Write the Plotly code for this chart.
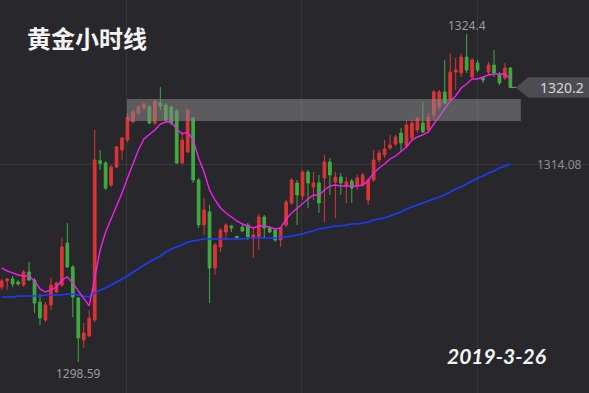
import plotly.graph_objects as go

# ---------------- data ----------------
opens = [1304.49, 1304.97, 1305.12, 1304.89, 1304.65, 1305.67, 1305.04, 1303.31, 1301.90, 1303.08,
         1304.10, 1304.65, 1307.96, 1306.07, 1303.63, 1300.32, 1300.64, 1301.90, 1314.43, 1314.25,
         1312.52, 1313.94, 1315.28, 1316.06, 1317.48, 1318.19, 1318.58, 1318.66, 1317.40, 1318.97,
         1318.82, 1318.66, 1318.34, 1314.25, 1315.12, 1317.79, 1312.91, 1309.37, 1310.40, 1305.99,
         1307.64, 1308.82, 1309.29, 1308.47, 1309.21, 1309.37, 1308.35, 1308.43, 1310.00, 1309.14,
         1308.98, 1308.19, 1309.37, 1311.10, 1312.68, 1311.65, 1313.54, 1312.36, 1312.68, 1313.07,
         1314.33, 1312.76, 1313.15, 1312.44, 1312.84, 1312.44, 1312.52, 1311.34, 1312.91, 1314.49,
         1314.88, 1315.43, 1315.75, 1316.61, 1315.59, 1316.22, 1316.85, 1317.40, 1316.85, 1318.03,
         1318.66, 1319.84, 1319.21, 1321.41, 1321.34, 1322.59, 1321.02, 1322.12, 1320.94, 1321.41,
         1321.96, 1321.18, 1320.94, 1321.73]
highs = [1305.12, 1305.20, 1305.36, 1305.04, 1305.83, 1306.46, 1305.20, 1303.94, 1303.31, 1305.20,
         1304.89, 1308.35, 1309.53, 1306.22, 1303.71, 1301.66, 1302.68, 1316.85, 1315.28, 1314.41,
         1314.09, 1315.59, 1316.30, 1318.19, 1318.42, 1318.82, 1318.97, 1318.82, 1319.21, 1320.23,
         1318.97, 1318.74, 1318.50, 1316.69, 1318.50, 1317.87, 1313.07, 1311.50, 1310.95, 1307.96,
         1309.14, 1309.53, 1309.37, 1308.51, 1309.37, 1309.53, 1309.21, 1310.24, 1310.16, 1309.29,
         1309.14, 1309.21, 1311.34, 1313.07, 1312.91, 1313.70, 1313.70, 1313.54, 1313.31, 1314.88,
         1314.65, 1313.54, 1313.47, 1313.15, 1312.99, 1313.31, 1313.47, 1313.07, 1315.28, 1315.28,
         1316.06, 1316.46, 1316.46, 1317.01, 1317.64, 1317.64, 1317.87, 1319.05, 1318.19, 1320.00,
         1320.00, 1322.36, 1322.91, 1322.52, 1322.91, 1324.40, 1322.52, 1322.36, 1321.02, 1322.20,
         1323.15, 1321.41, 1322.12, 1321.81]
lows = [1304.26, 1304.26, 1304.49, 1304.57, 1304.49, 1304.97, 1302.45, 1301.50, 1301.74, 1302.68,
        1304.02, 1304.49, 1305.99, 1302.13, 1298.59, 1299.69, 1300.56, 1301.74, 1313.70, 1312.13,
        1312.36, 1313.86, 1314.49, 1315.90, 1317.40, 1318.03, 1318.42, 1317.32, 1317.24, 1318.42,
        1317.48, 1317.24, 1314.17, 1314.17, 1315.04, 1312.68, 1309.14, 1308.59, 1303.23, 1305.44,
        1307.25, 1308.19, 1308.82, 1308.27, 1308.82, 1308.19, 1306.78, 1307.41, 1308.35, 1308.74,
        1308.03, 1307.64, 1309.21, 1310.95, 1309.37, 1311.34, 1310.71, 1311.34, 1310.32, 1309.61,
        1311.73, 1309.92, 1311.73, 1311.10, 1311.10, 1312.13, 1312.36, 1310.95, 1312.76, 1314.25,
        1314.65, 1315.28, 1315.59, 1315.12, 1315.43, 1316.06, 1316.61, 1316.61, 1316.61, 1317.64,
        1318.42, 1318.90, 1319.05, 1320.00, 1321.02, 1321.34, 1320.94, 1321.41, 1320.55, 1321.18,
        1321.02, 1320.39, 1320.78, 1320.15]
closes = [1304.97, 1305.12, 1304.73, 1304.73, 1305.67, 1305.04, 1303.23, 1302.05, 1303.08, 1304.65,
          1304.81, 1307.64, 1306.07, 1303.71, 1300.48, 1300.87, 1302.05, 1314.49, 1314.23, 1312.28,
          1313.94, 1315.51, 1316.22, 1317.87, 1318.27, 1318.66, 1318.90, 1317.40, 1319.13, 1318.74,
          1317.64, 1317.40, 1314.25, 1316.06, 1318.42, 1312.91, 1309.37, 1310.55, 1305.99, 1307.80,
          1308.98, 1309.37, 1309.14, 1308.39, 1308.90, 1308.43, 1308.59, 1310.00, 1309.14, 1308.82,
          1308.19, 1309.14, 1311.18, 1312.91, 1311.73, 1313.54, 1312.68, 1312.68, 1311.10, 1314.33,
          1313.31, 1313.15, 1312.68, 1312.76, 1312.28, 1313.07, 1313.31, 1312.91, 1314.49, 1315.04,
          1315.35, 1315.67, 1316.30, 1315.83, 1317.24, 1317.40, 1317.79, 1316.69, 1317.87, 1319.84,
          1319.84, 1318.97, 1321.41, 1321.57, 1322.59, 1321.57, 1322.36, 1321.57, 1320.78, 1321.96,
          1321.34, 1320.55, 1321.73, 1320.20]
ma_fast = [1305.99, 1305.75, 1305.60, 1305.44, 1305.36, 1305.36, 1304.97, 1304.34, 1304.10, 1304.26,
           1304.49, 1305.04, 1305.28, 1304.81, 1304.18, 1303.55, 1303.00, 1305.20, 1307.41, 1308.82,
           1309.84, 1310.95, 1311.89, 1313.07, 1314.25, 1315.28, 1316.14, 1316.46, 1316.85, 1317.32,
           1317.48, 1317.48, 1316.93, 1316.53, 1316.69, 1316.06, 1314.65, 1313.54, 1312.13, 1311.34,
           1310.71, 1310.32, 1310.00, 1309.69, 1309.45, 1309.29, 1309.14, 1309.29, 1309.29, 1309.21,
           1309.06, 1309.14, 1309.84, 1310.32, 1310.71, 1311.10, 1311.42, 1311.73, 1311.73, 1312.13,
           1312.44, 1312.52, 1312.44, 1312.44, 1312.44, 1312.44, 1312.52, 1312.84, 1313.47, 1313.86,
           1314.17, 1314.57, 1314.80, 1315.12, 1315.51, 1316.06, 1316.30, 1316.46, 1316.69, 1317.32,
           1317.95, 1318.58, 1319.13, 1319.53, 1320.15, 1320.47, 1320.86, 1320.86, 1321.02, 1321.18,
           1321.26, 1321.26, 1321.26, 1320.86]
ma_slow = [1303.71, 1303.71, 1303.71, 1303.78, 1303.78, 1303.78, 1303.78, 1303.78, 1303.86, 1303.86,
           1303.86, 1303.86, 1303.94, 1303.94, 1303.86, 1303.78, 1303.71, 1304.02, 1304.26, 1304.41,
           1304.65, 1304.89, 1305.12, 1305.36, 1305.67, 1305.91, 1306.22, 1306.46, 1306.70, 1306.93,
           1307.25, 1307.48, 1307.64, 1307.80, 1308.03, 1308.11, 1308.19, 1308.27, 1308.27, 1308.27,
           1308.27, 1308.27, 1308.27, 1308.27, 1308.27, 1308.35, 1308.35, 1308.35, 1308.35, 1308.35,
           1308.35, 1308.43, 1308.43, 1308.51, 1308.59, 1308.66, 1308.82, 1308.90, 1309.06, 1309.14,
           1309.21, 1309.29, 1309.29, 1309.37, 1309.45, 1309.45, 1309.53, 1309.61, 1309.77, 1309.84,
           1309.92, 1310.08, 1310.24, 1310.40, 1310.63, 1310.79, 1310.95, 1311.10, 1311.26, 1311.42,
           1311.58, 1311.73, 1311.97, 1312.21, 1312.36, 1312.60, 1312.84, 1313.07, 1313.23, 1313.47,
           1313.62, 1313.86, 1314.02, 1314.17]
bars = list(range(len(closes)))

title_text = "黄金小时线"
date_text = "2019-3-26"
high_label = "1324.4"
low_label = "1298.59"
slow_label = "1314.08"
last_label = "1320.2"
zone_low, zone_high = 1317.56, 1319.29
zone_start, zone_end = 22.9, 94.9
grid_x = [22.9, 54.9, 86.9]
grid_y = [1314.17]

# ---------------- styling ----------------
BG = "#28282c"
RED = "#dc3436"
GREEN = "#3dad3d"
W, H = 589, 393

fig = go.Figure()
fig.add_trace(go.Candlestick(
    x=bars, open=opens, high=highs, low=lows, close=closes,
    increasing=dict(line=dict(color=RED, width=1), fillcolor=RED),
    decreasing=dict(line=dict(color=GREEN, width=1), fillcolor=GREEN),
    whiskerwidth=0, showlegend=False, hoverinfo="skip"))
fig.add_trace(go.Scatter(x=bars, y=ma_slow, mode="lines",
                         line=dict(color="#1b3cff", width=1.6), showlegend=False, hoverinfo="skip"))
fig.add_trace(go.Scatter(x=bars, y=ma_fast, mode="lines",
                         line=dict(color="#f21ff2", width=1.4), showlegend=False, hoverinfo="skip"))

i_hi = highs.index(max(highs))
i_lo = lows.index(min(lows))
last = closes[-1]

shapes = [
    dict(type="rect", xref="x", yref="y", x0=zone_start, x1=zone_end, y0=zone_low, y1=zone_high,
         fillcolor="rgba(135,135,138,0.55)", line=dict(width=0), layer="above"),
    dict(type="line", xref="x", yref="y", x0=bars[-1], x1=bars[-1] + 1.1, y0=last, y1=last,
         line=dict(color="#8a8a8e", width=1)),
    dict(type="path", xref="paper", yref="y",
         path=f"M {516/W} {last} L {528/W} {last+0.8} L 1 {last+0.8} L 1 {last-0.8} L {528/W} {last-0.8} Z",
         fillcolor="#4d4d51", line=dict(width=0), layer="above"),
]

annotations = [
    dict(text=title_text, xref="paper", yref="paper", x=87/W, y=1-38/H, xanchor="center", yanchor="middle",
         showarrow=False, font=dict(family="Noto Sans CJK SC", size=24, color="#f4f4f4", weight="bold")),
    dict(text=date_text, xref="paper", yref="paper", x=496/W, y=1-355/H, xanchor="center", yanchor="middle",
         showarrow=False, font=dict(family="Lato", size=21, color="#f4f4f4", style="italic", weight="bold")),
    dict(text=high_label, x=bars[i_hi], y=highs[i_hi], xanchor="center", yanchor="bottom", yshift=-2,
         showarrow=False, font=dict(family="Noto Sans", size=12, color="#9a9a9e")),
    dict(text=low_label, x=bars[i_lo], y=lows[i_lo], xanchor="center", yanchor="top", yshift=-1,
         showarrow=False, font=dict(family="Noto Sans", size=12, color="#9a9a9e")),
    dict(text=slow_label, xref="paper", x=559/W, y=ma_slow[-1], xanchor="center", yanchor="middle",
         showarrow=False, font=dict(family="Noto Sans", size=12, color="#8e8e92")),
    dict(text=last_label, xref="paper", x=562/W, y=last, xanchor="center", yanchor="middle",
         showarrow=False, font=dict(family="Noto Sans", size=14, color="#d8d8d8")),
]

fig.update_layout(
    width=W, height=H, margin=dict(l=0, r=0, t=0, b=0),
    paper_bgcolor=BG, plot_bgcolor=BG,
    shapes=shapes, annotations=annotations, showlegend=False,
    xaxis=dict(range=[-0.31, 107.37], rangeslider=dict(visible=False), showticklabels=False,
               tickvals=grid_x, showgrid=True, gridcolor="#36363b", gridwidth=1, zeroline=False,
               showline=False, fixedrange=True),
    yaxis=dict(range=[1296.15, 1327.08], showticklabels=False, tickvals=grid_y, showgrid=True,
               gridcolor="#36363b", gridwidth=1, zeroline=False, showline=False, fixedrange=True),
)

fig.write_html("out.html", config=dict(displayModeBar=False),
               post_script="document.body.style.margin='0';document.body.style.padding='0';"
                           "document.body.style.background='%s';document.body.style.overflow='hidden';" % BG)
